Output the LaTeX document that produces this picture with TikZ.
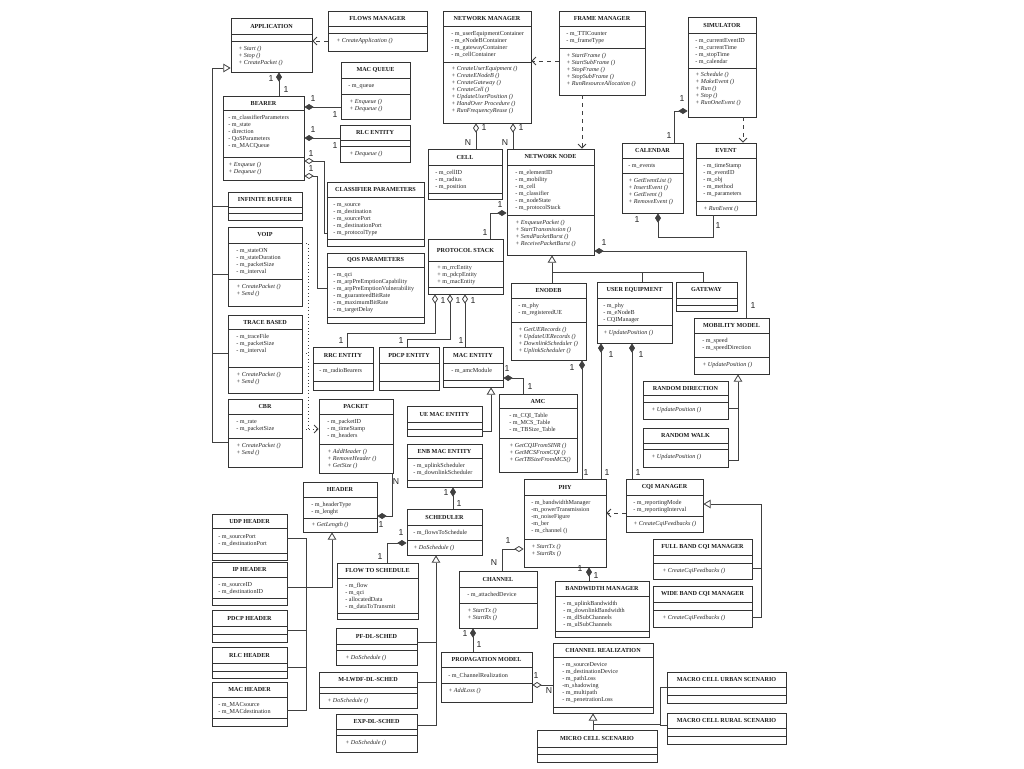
\documentclass[tikz,border=0pt]{standalone}
\usepackage{fontspec}
\setmainfont{Liberation Serif}
\newfontfamily\lblfont{Liberation Sans}
\usetikzlibrary{arrows.meta,fit}
\tikzset{
 box/.style={draw=black!80, line width=0.6pt, inner sep=0pt},
 sepline/.style={draw=black!80, line width=0.5pt},
 ttl/.style={font=\fontsize{4.6}{5}\selectfont\bfseries, inner sep=0pt, text=black!90},
 attr/.style={font=\fontsize{4.6}{5}\selectfont, inner sep=0pt, anchor=base west, text=black!85},
 meth/.style={attr, font=\fontsize{4.6}{5}\selectfont\itshape},
 conn/.style={draw=black!75, line width=0.6pt},
 comp/.style={conn, {Diamond[length=7pt,width=4.5pt]}-},
 aggr/.style={conn, {Diamond[length=7pt,width=4.5pt,fill=white]}-},
 gen/.style={conn, -{Triangle[length=5.5pt,width=6.5pt,fill=white]}},
 dep/.style={conn, dashed, -{Straight Barb[length=3pt,width=6pt]}},
 mult/.style={font=\lblfont\fontsize{6.5}{7}\selectfont, inner sep=0pt, text=black!85},
}
\newcommand{\ubox}[8]{%
  \node[box, fit={(#2,#3)(#4,#5)}] (#1) {};%
  \draw[sepline] (#2,#6) -- (#4,#6);%
  \draw[sepline] (#2,#7) -- (#4,#7);%
  \pgfmathsetmacro\cx{(#2+#4)/2}%
  \pgfmathsetmacro\cy{(#3+#6)/2}%
  \node[ttl] (#1-t) at (\cx,\cy) {#8};%
}
\newcommand{\attrs}[4]{%
  \foreach \txt [count=\i] in {#4} {%
    \pgfmathsetmacro\yy{#3+7*(\i-1)+1.8}%
    \node[attr] (#1-a\i) at (#2,\yy) {\txt};%
  }%
}
\newcommand{\meths}[4]{%
  \foreach \txt [count=\i] in {#4} {%
    \pgfmathsetmacro\yy{#3+7*(\i-1)+1.8}%
    \node[meth] (#1-m\i) at (#2,\yy) {\txt};%
  }%
}
\newcommand{\ml}[4]{\node[mult] (#1) at (#2,#3) {#4};}
\begin{document}
\begin{tikzpicture}[x=0.75pt,y=-0.75pt]
\fill[white] (0,0) rectangle (1024,768);
\useasboundingbox (0,0) rectangle (1024,768);

% ---------- boxes ----------
\ubox{app}{231}{18}{312}{72}{34}{41}{APPLICATION}
\meths{app}{238}{49}{{+ Start ()},{+ Stop ()},{+ CreatePacket ()}}
\ubox{flows}{328}{11}{427}{51}{26}{33}{FLOWS MANAGER}
\meths{flows}{336}{41}{{+ CreateApplication ()}}
\ubox{macq}{341}{62}{410}{119}{78}{94}{MAC QUEUE}
\attrs{macq}{348}{86}{{- m\_queue}}
\meths{macq}{349}{102}{{+ Enqueue ()},{+ Dequeue ()}}
\ubox{bearer}{223}{96}{304}{180}{110}{157}{BEARER}
\attrs{bearer}{228}{118}{{- m\_classifierParameters},{- m\_state},{- direction},{- QoSParameters},{- m\_MACQueue}}
\meths{bearer}{228}{165}{{+ Enqueue ()},{+ Dequeue ()}}
\ubox{rlc}{340}{125}{410}{162}{140}{146}{RLC ENTITY}
\meths{rlc}{349}{154}{{+ Dequeue ()}}
\ubox{classp}{327}{182}{424}{246}{197}{239}{CLASSIFIER PARAMETERS}
\attrs{classp}{333}{205}{{- m\_source},{- m\_destination},{- m\_sourcePort},{- m\_destinationPort},{- m\_protocolType}}
\ubox{qosp}{327}{253}{424}{323}{267}{317}{QOS PARAMETERS}
\attrs{qosp}{333}{275}{{- m\_qci},{- m\_arpPreEmptionCapability},{- m\_arpPreEmptionVulnerability},{- m\_guaranteedBitRate},{- m\_maximumBitRate},{- m\_targetDelay}}
\ubox{infbuf}{228}{192}{302}{220}{207}{213}{INFINITE BUFFER}
\ubox{voip}{228}{227}{302}{306}{243}{279}{VOIP}
\attrs{voip}{236}{251}{{- m\_stateON},{- m\_stateDuration},{- m\_packetSize},{- m\_interval}}
\meths{voip}{236}{287}{{+ CreatePacket ()},{+ Send ()}}
\ubox{trace}{228}{315}{302}{393}{329}{367}{TRACE BASED}
\attrs{trace}{236}{337}{{- m\_traceFile},{- m\_packetSize},{- m\_interval}}
\meths{trace}{236}{375}{{+ CreatePacket ()},{+ Send ()}}
\ubox{cbr}{228}{399}{302}{467}{414}{438}{CBR}
\attrs{cbr}{236}{422}{{- m\_rate},{- m\_packetSize}}
\meths{cbr}{236}{446}{{+ CreatePacket ()},{+ Send ()}}
\ubox{packet}{319}{399}{393}{473}{414}{444}{PACKET}
\attrs{packet}{327}{422}{{- m\_packetID},{- m\_timeStamp},{- m\_headers}}
\meths{packet}{327}{452}{{+ AddHeader ()},{+ RemoveHeader ()},{+ GetSize ()}}
\ubox{header}{303}{482}{377}{532}{497}{518}{HEADER}
\attrs{header}{311}{505}{{- m\_headerType},{- m\_lenght}}
\meths{header}{311}{525}{{+ GetLength ()}}
\ubox{udp}{212}{514}{287}{560}{528}{553}{UDP HEADER}
\attrs{udp}{218}{537}{{- m\_sourcePort},{- m\_destinationPort}}
\ubox{ip}{212}{562}{287}{605}{577}{598}{IP HEADER}
\attrs{ip}{218}{585}{{- m\_sourceID},{- m\_destinationID}}
\ubox{pdcph}{212}{610}{287}{642}{626}{634}{PDCP HEADER}
\ubox{rlch}{212}{647}{287}{678}{663}{671}{RLC HEADER}
\ubox{mach}{212}{682}{287}{726}{697}{718}{MAC HEADER}
\attrs{mach}{218}{705}{{- m\_MACsource},{- m\_MACdestination}}

\ubox{netman}{443}{11}{531}{123}{26}{62}{NETWORK MANAGER}
\attrs{netman}{451}{34}{{- m\_userEquipmentContainer},{- m\_eNodeBContainer},{- m\_gatewayContainer},{- m\_cellContainer}}
\meths{netman}{451}{69}{{+ CreateUserEquipment ()},{+ CreateENodeB ()},{+ CreateGateway ()},{+ CreateCell ()},{+ UpdateUserPosition ()},{+ HandOver Procedure ()},{+ RunFrequencyReuse ()}}
\ubox{frameman}{559}{11}{645}{95}{26}{48}{FRAME MANAGER}
\attrs{frameman}{566}{34}{{- m\_TTICounter},{- m\_frameType}}
\meths{frameman}{566}{56}{{+ StartFrame ()},{+ StartSubFrame ()},{+ StopFrame ()},{+ StopSubFrame ()},{+ RunResourceAllocation ()}}
\ubox{sim}{688}{17}{756}{117}{33}{68}{SIMULATOR}
\attrs{sim}{695}{41}{{- m\_currentEventID},{- m\_currentTime},{- m\_stopTime},{- m\_calendar}}
\meths{sim}{695}{75}{{+ Schedule ()},{+ MakeEvent ()},{+ Run ()},{+ Stop ()},{+ RunOneEvent ()}}
\ubox{cell}{428}{149}{502}{199}{165}{193}{CELL}
\attrs{cell}{435}{173}{{- m\_cellID},{- m\_radius},{- m\_position}}
\ubox{nnode}{507}{149}{594}{255}{165}{215}{NETWORK NODE}
\attrs{nnode}{515}{173}{{- m\_elementID},{- m\_mobility},{- m\_cell},{- m\_classifier},{- m\_nodeState},{- m\_protocolStack}}
\meths{nnode}{515}{223}{{+ EnqueuePacket ()},{+ StartTransmission ()},{+ SendPacketBurst ()},{+ ReceivePacketBurst ()}}
\ubox{cal}{622}{143}{683}{213}{158}{173}{CALENDAR}
\attrs{cal}{628}{166}{{- m\_events}}
\meths{cal}{628}{181}{{+ GetEventList ()},{+ InsertEvent ()},{+ GetEvent ()},{+ RemoveEvent ()}}
\ubox{event}{696}{143}{756}{215}{158}{201}{EVENT}
\attrs{event}{703}{166}{{- m\_timeStamp},{- m\_eventID},{- m\_obj},{- m\_method},{- m\_parameters}}
\meths{event}{703}{209}{{+ RunEvent ()}}
\ubox{pstack}{428}{239}{503}{294}{261}{287}{PROTOCOL STACK}
\attrs{pstack}{437}{268}{{+ m\_rrcEntity},{+ m\_pdcpEntity},{+ m\_macEntity}}
\ubox{enodeb}{511}{283}{586}{360}{298}{322}{ENODEB}
\attrs{enodeb}{518}{306}{{- m\_phy},{- m\_registeredUE}}
\meths{enodeb}{518}{330}{{+ GetUERecords ()},{+ UpdateUERecords ()},{+ DownlinkScheduler ()},{+ UplinkScheduler ()}}
\ubox{ue}{597}{282}{672}{343}{298}{325}{USER EQUIPMENT}
\attrs{ue}{603}{306}{{- m\_phy},{- m\_eNodeB},{- CQIManager}}
\meths{ue}{603}{333}{{+ UpdatePosition ()}}
\ubox{gw}{676}{282}{737}{311}{298}{305}{GATEWAY}
\ubox{mob}{694}{318}{769}{374}{333}{357}{MOBILITY MODEL}
\attrs{mob}{702}{341}{{- m\_speed},{- m\_speedDirection}}
\meths{mob}{702}{365}{{+ UpdatePosition ()}}
\ubox{rdir}{643}{381}{728}{419}{395}{402}{RANDOM DIRECTION}
\meths{rdir}{651}{410}{{+ UpdatePosition ()}}
\ubox{rwalk}{643}{428}{728}{467}{443}{449}{RANDOM WALK}
\meths{rwalk}{651}{457}{{+ UpdatePosition ()}}
\ubox{rrc}{313}{347}{373}{390}{363}{381}{RRC ENTITY}
\attrs{rrc}{319}{371}{{- m\_radioBearers}}
\ubox{pdcpe}{379}{347}{439}{390}{363}{381}{PDCP ENTITY}
\ubox{mace}{443}{347}{503}{387}{363}{380}{MAC ENTITY}
\attrs{mace}{451}{371}{{- m\_amcModule}}
\ubox{amc}{499}{394}{577}{472}{408}{438}{AMC}
\attrs{amc}{509}{416}{{- m\_CQI\_Table},{- m\_MCS\_Table},{- m\_TBSize\_Table}}
\meths{amc}{509}{446}{{+ GetCQIFromSINR ()},{+ GetMCSFromCQI ()},{+ GetTBSizeFromMCS()}}
\ubox{uemac}{407}{406}{482}{436}{422}{429}{UE MAC ENTITY}
\ubox{enbmac}{407}{444}{482}{487}{458}{480}{ENB MAC ENTITY}
\attrs{enbmac}{413}{466}{{- m\_uplinkScheduler},{- m\_downlinkScheduler}}
\ubox{sched}{407}{509}{482}{555}{525}{540}{SCHEDULER}
\attrs{sched}{413}{533}{{- m\_flowsToSchedule}}
\meths{sched}{413}{548}{{+ DoSchedule ()}}
\ubox{phy}{524}{479}{606}{567}{495}{539}{PHY}
\attrs{phy}{531}{503}{{- m\_bandwidthManager},{-m\_powerTransmission},{-m\_noiseFigure},{-m\_ber},{- m\_channel ()}}
\meths{phy}{531}{547}{{+ StartTx ()},{+ StartRx ()}}
\ubox{cqi}{626}{479}{703}{532}{495}{516}{CQI MANAGER}
\attrs{cqi}{633}{503}{{- m\_reportingMode},{- m\_reportingInterval}}
\meths{cqi}{633}{524}{{+ CreateCqiFeedbacks ()}}
\ubox{fullcqi}{653}{539}{752}{579}{555}{563}{FULL BAND CQI MANAGER}
\meths{fullcqi}{662}{571}{{+ CreateCqiFeedbacks ()}}
\ubox{widecqi}{653}{586}{752}{627}{602}{610}{WIDE BAND CQI MANAGER}
\meths{widecqi}{662}{618}{{+ CreateCqiFeedbacks ()}}
\ubox{flowsch}{337}{563}{418}{619}{578}{613}{FLOW TO SCHEDULE}
\attrs{flowsch}{345}{586}{{- m\_flow},{- m\_qci},{- allocatedData},{- m\_dataToTransmit}}
\ubox{pf}{336}{628}{417}{665}{644}{650}{PF-DL-SCHED}
\meths{pf}{345}{658}{{+ DoSchedule ()}}
\ubox{mlwdf}{319}{672}{417}{708}{687}{693}{M-LWDF-DL-SCHED}
\meths{mlwdf}{327}{701}{{+ DoSchedule ()}}
\ubox{exp}{336}{714}{417}{752}{729}{735}{EXP-DL-SCHED}
\meths{exp}{345}{743}{{+ DoSchedule ()}}
\ubox{channel}{459}{571}{537}{628}{587}{603}{CHANNEL}
\attrs{channel}{467}{595}{{- m\_attachedDevice}}
\meths{channel}{467}{611}{{+ StartTx ()},{+ StartRx ()}}
\ubox{bw}{555}{581}{649}{637}{596}{631}{BANDWIDTH MANAGER}
\attrs{bw}{563}{604}{{- m\_uplinkBandwidth},{- m\_downlinkBandwidth},{- m\_dlSubChannels},{- m\_ulSubChannels}}
\ubox{propm}{441}{652}{532}{702}{667}{683}{PROPAGATION MODEL}
\attrs{propm}{448}{676}{{- m\_ChannelRealization}}
\meths{propm}{448}{691}{{+ AddLoss ()}}
\ubox{chreal}{553}{643}{653}{713}{657}{707}{CHANNEL REALIZATION}
\attrs{chreal}{562}{665}{{- m\_sourceDevice},{- m\_destinationDevice},{- m\_pathLoss},{-m\_shadowing},{- m\_multipath},{- m\_penetrationLoss}}
\ubox{micro}{537}{730}{657}{762}{747}{754}{MICRO CELL SCENARIO}
\ubox{urban}{667}{672}{786}{703}{687}{695}{MACRO CELL URBAN SCENARIO}
\ubox{rural}{667}{713}{786}{744}{728}{736}{MACRO CELL RURAL SCENARIO}

% ---------- dependencies ----------
\draw[dep] (flows.west |- 0,41) -- (app.east |- 0,41);
\draw[dep] (frameman.west |- 0,61) -- (netman.east |- 0,61);
\draw[dep] (frameman.south -| 582,0) -- (nnode.north -| 582,0);
\draw[dep] (sim.south -| 743,0) -- (event.north -| 743,0);
\draw[dep] (cqi.west |- 0,513) -- (phy.east |- 0,513);
\draw[conn,dotted] (voip.east |- 0,243) -- (308,243) -- (308,429);
\draw[conn,dotted] (trace.east |- 0,353) -- (308,353);
\draw[conn,dotted,-{Straight Barb[length=3pt,width=6pt]}] (cbr.east |- 0,429) -- (packet.west |- 0,429);

% ---------- generalizations ----------
\draw[gen] (cbr.west |- 0,442) -- (212,442) -- (212,68) -- (app.west |- 0,68);
\draw[conn] (infbuf.west |- 0,206) -- (212,206);
\draw[conn] (voip.west |- 0,274) -- (212,274);
\draw[conn] (trace.west |- 0,353) -- (212,353);
\draw[gen] (ip.east |- 0,587) -- (332,587) -- (header.south -| 332,0);
\draw[conn] (udp.east |- 0,538) -- (306,538) -- (306,710) -- (mach.east |- 0,710);
\draw[conn] (pdcph.east |- 0,630) -- (306,630);
\draw[conn] (rlch.east |- 0,667) -- (306,667);
\draw[gen] (enodeb.north -| 552,0) -- (nnode.south -| 552,0);
\draw[conn] (552,272) -- (703,272) -- (gw.north -| 703,0);
\draw[conn] (ue.north -| 642,0) -- (642,272);
\draw[gen] (rwalk.east |- 0,460) -- (738,460) -- (mob.south -| 738,0);
\draw[conn] (rdir.east |- 0,408) -- (738,408);
\draw[gen] (uemac.east |- 0,431) -- (491,431) -- (mace.south -| 491,0);
\draw[gen] (exp.east |- 0,725) -- (436,725) -- (sched.south -| 436,0);
\draw[conn] (pf.east |- 0,642) -- (436,642);
\draw[conn] (mlwdf.east |- 0,682) -- (436,682);
\draw[gen] (widecqi.east |- 0,617) -- (761,617) -- (761,504) -- (cqi.east |- 0,504);
\draw[conn] (fullcqi.east |- 0,568) -- (761,568);
\draw[gen] (micro.north -| 593,0) -- (chreal.south -| 593,0);
\draw[conn] (593,724) -- (660,724);
\draw[conn] (urban.west |- 0,687) -- (660,687) -- (660,725) -- (rural.west |- 0,725);

% ---------- compositions / aggregations ----------
\draw[comp] (app.south -| 279,0) -- (bearer.north -| 279,0);
\ml{m1}{271}{79}{1}\ml{m2}{286}{90}{1}
\draw[comp] (bearer.east |- 0,107) -- (macq.west |- 0,107);
\ml{m3}{313}{99}{1}\ml{m4}{335}{115}{1}
\draw[comp] (bearer.east |- 0,138) -- (rlc.west |- 0,138);
\ml{m5}{313}{130}{1}\ml{m6}{335}{146}{1}
\draw[aggr] (bearer.east |- 0,161) -- (324,161) -- (324,233) -- (classp.west |- 0,233);
\ml{m7}{311}{154}{1}
\draw[aggr] (bearer.east |- 0,176) -- (317,176) -- (317,288) -- (qosp.west |- 0,288);
\ml{m8}{311}{169}{1}
\draw[comp] (header.east |- 0,516) -- (392,516) -- (packet.south -| 392,0);
\ml{m9}{396}{482}{N}\ml{m10}{381}{525}{1}
\draw[aggr] (netman.south -| 476,0) -- (cell.north -| 476,0);
\ml{m11}{484}{128}{1}\ml{m12}{468}{143}{N}
\draw[aggr] (netman.south -| 513,0) -- (nnode.north -| 513,0);
\ml{m13}{521}{128}{1}\ml{m14}{505}{143}{N}
\draw[comp] (sim.west |- 0,111) -- (674,111) -- (cal.north -| 674,0);
\ml{m15}{682}{99}{1}\ml{m16}{669}{136}{1}
\draw[comp] (cal.south -| 658,0) -- (658,237) -- (713,237) -- (event.south -| 713,0);
\ml{m17}{637}{220}{1}\ml{m18}{718}{226}{1}
\draw[comp] (nnode.west |- 0,213) -- (490,213) -- (pstack.north -| 490,0);
\ml{m19}{500}{205}{1}\ml{m20}{485}{233}{1}
\draw[comp] (nnode.east |- 0,251) -- (746,251) -- (mob.north -| 746,0);
\ml{m21}{604}{243}{1}\ml{m22}{753}{306}{1}
\draw[aggr] (pstack.south -| 435,0) -- (435,333) -- (347,333) -- (rrc.north -| 347,0);
\draw[aggr] (pstack.south -| 450,0) -- (450,339) -- (407,339) -- (pdcpe.north -| 407,0);
\draw[aggr] (pstack.south -| 465,0) -- (mace.north -| 465,0);
\ml{m23}{443}{301}{1}\ml{m24}{458}{301}{1}\ml{m25}{473}{301}{1}
\ml{m26}{341}{341}{1}\ml{m27}{401}{341}{1}\ml{m28}{461}{341}{1}
\draw[comp] (mace.east |- 0,378) -- (523,378) -- (amc.north -| 523,0);
\ml{m29}{507}{369}{1}\ml{m30}{530}{387}{1}
\draw[comp] (enbmac.south -| 453,0) -- (sched.north -| 453,0);
\ml{m31}{446}{493}{1}\ml{m32}{459}{504}{1}
\draw[comp] (sched.west |- 0,543) -- (387,543) -- (flowsch.north -| 387,0);
\ml{m33}{401}{533}{1}\ml{m34}{380}{557}{1}
\draw[comp] (enodeb.south -| 582,0) -- (phy.north -| 582,0);
\ml{m35}{572}{368}{1}\ml{m36}{586}{473}{1}
\draw[comp] (ue.south -| 601,0) -- (phy.north -| 601,0);
\ml{m37}{611}{355}{1}\ml{m38}{607}{473}{1}
\draw[comp] (ue.south -| 632,0) -- (cqi.north -| 632,0);
\ml{m39}{641}{355}{1}\ml{m40}{638}{473}{1}
\draw[aggr] (phy.west |- 0,549) -- (502,549) -- (channel.north -| 502,0);
\ml{m41}{508}{541}{1}\ml{m42}{494}{563}{N}
\draw[comp] (phy.south -| 589,0) -- (bw.north -| 589,0);
\ml{m43}{580}{569}{1}\ml{m44}{596}{576}{1}
\draw[comp] (channel.south -| 473,0) -- (propm.north -| 473,0);
\ml{m45}{465}{634}{1}\ml{m46}{479}{645}{1}
\draw[aggr] (propm.east |- 0,685) -- (chreal.west |- 0,685);
\ml{m47}{536}{676}{1}\ml{m48}{549}{691}{N}
\end{tikzpicture}
\end{document}
